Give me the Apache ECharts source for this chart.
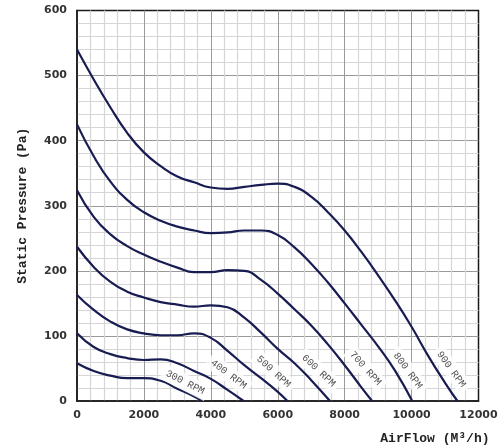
<!DOCTYPE html>
<html>
<head>
<meta charset="utf-8">
<script src="https://cdn.jsdelivr.net/npm/echarts@6/dist/echarts.min.js"></script>
<style>
html,body{margin:0;padding:0;background:#fff;}
#chart{width:504px;height:448px;}
</style>
</head>
<body>
<div id="chart"></div>
<script>
// ---- data (AirFlow M3/h, Static Pressure Pa) ----
const rpmNames = ['300 RPM','400 RPM','500 RPM','600 RPM','700 RPM','800 RPM','900 RPM'];

const rpm300X = [0, 500, 1000, 1500, 2000, 2500, 3000, 3500, 3750];
const rpm300Y = [58, 46, 39, 35, 35, 31, 19, 7, 0];

const rpm400X = [0, 500, 1000, 1500, 2000, 2500, 3000, 3500, 4000, 4500, 4980];
const rpm400Y = [104, 83, 72, 66, 63, 64, 58, 46, 34, 17, 0];

const rpm500X = [0, 500, 1000, 1500, 2000, 2500, 3000, 3500, 4000, 4500, 5000, 5500, 6000, 6290];
const rpm500Y = [163, 140, 122, 110, 104, 101, 101, 104, 97, 77, 55, 35, 14, 0];

const rpm600X = [0, 500, 1000, 1500, 2000, 2500, 3000, 3500, 4000, 4500, 5000, 5500, 6000, 6500, 7000, 7560];
const rpm600Y = [237, 206, 183, 168, 159, 152, 148, 145, 147, 144, 128, 105, 80, 58, 32, 0];

const rpm700X = [0, 500, 1000, 1500, 2000, 2500, 3000, 3500, 4000, 4500, 5000, 5500, 6000, 6500, 7000, 7500, 8000, 8500, 8820];
const rpm700Y = [324, 283, 256, 238, 225, 214, 205, 198, 198, 201, 200, 186, 165, 141, 116, 87, 55, 21, 0];

const rpm800X = [0, 500, 1000, 1500, 2000, 2500, 3000, 3500, 4000, 4500, 5000, 5500, 6000, 6500, 7000, 7500, 8000, 8500, 9000, 9500, 10020];
const rpm800Y = [425, 376, 337, 309, 290, 277, 268, 262, 258, 259, 262, 262, 255, 236, 211, 182, 150, 117, 84, 47, 0];

const rpm900X = [0, 500, 1000, 1500, 2000, 2500, 3000, 3500, 4000, 4500, 5000, 5500, 6000, 6500, 7000, 7500, 8000, 8500, 9000, 9500, 10000, 10500, 11000, 11370];
const rpm900Y = [540, 494, 451, 412, 382, 361, 345, 336, 328, 326, 329, 332, 334, 329, 314, 290, 262, 229, 193, 155, 114, 69, 28, 0];

const xTicks = [0, 2000, 4000, 6000, 8000, 10000, 12000];
const yTicks = [0, 100, 200, 300, 400, 500, 600];

// ---- build ----
const curvesX = [rpm300X, rpm400X, rpm500X, rpm600X, rpm700X, rpm800X, rpm900X];
const curvesY = [rpm300Y, rpm400Y, rpm500Y, rpm600Y, rpm700Y, rpm800Y, rpm900Y];

// label anchors (data coordinates) and text angles
const labelAt = [[3232, 28.5], [4530, 41], [5876, 45], [7224, 46.5], [8620, 50], [9887, 46.5], [11185, 48.6]];
const labelRot = [-27, -37, -42, -43, -48, -54, -54];

const lineColor = '#181c52';
const series = curvesX.map((xs, i) => ({
  type: 'line',
  name: rpmNames[i],
  data: xs.map((x, j) => [x, curvesY[i][j]]),
  smooth: 0.5,
  showSymbol: false,
  symbol: 'none',
  lineStyle: { color: lineColor, width: 2.2 },
  z: 3,
  silent: true
}));

series.push({
  type: 'scatter',
  symbolSize: 0,
  z: 5,
  silent: true,
  data: labelAt.map((p, i) => ({
    value: p,
    label: {
      show: true,
      position: 'inside',
      formatter: rpmNames[i],
      rotate: labelRot[i],
      fontFamily: 'Liberation Mono',
      fontSize: 10,
      color: '#222',
      backgroundColor: '#ffffff',
      padding: [3, 4]
    }
  }))
});

const chart = echarts.init(document.getElementById('chart'), null, { renderer: 'canvas' });
chart.setOption({
  animation: false,
  backgroundColor: '#ffffff',
  grid: {
    left: 77, right: 25.5, top: 10.5, bottom: 47,
    show: true, borderColor: '#1a1a1a', borderWidth: 1.5, backgroundColor: 'transparent',
    containLabel: false
  },
  xAxis: {
    type: 'value',
    min: xTicks[0], max: xTicks[xTicks.length - 1], interval: 2000,
    name: 'AirFlow (M³/h)',
    nameLocation: 'end',
    nameGap: 11,
    nameTextStyle: {
      fontFamily: 'Liberation Mono', fontWeight: 'bold', fontSize: 13, color: '#222',
      align: 'right', verticalAlign: 'top', padding: [31, 0, 0, 0]
    },
    axisLine: { show: true, lineStyle: { color: '#1a1a1a', width: 1.5 } },
    axisTick: { show: false },
    axisLabel: { fontFamily: 'DejaVu Sans', fontWeight: 'bold', fontSize: 11, color: '#333', margin: 9,
      formatter: v => String(v) },
    splitLine: { show: true, showMinLine: false, showMaxLine: false, lineStyle: { color: '#9a9a9a', width: 1 } },
    minorTick: { show: false, splitNumber: 5 },
    minorSplitLine: { show: true, lineStyle: { color: '#d6d6d6', width: 1.2 } }
  },
  yAxis: {
    type: 'value',
    min: yTicks[0], max: yTicks[yTicks.length - 1], interval: 100,
    name: 'Static Pressure (Pa)',
    nameLocation: 'middle',
    nameGap: 48,
    nameRotate: 90,
    nameTextStyle: { fontFamily: 'Liberation Mono', fontWeight: 'bold', fontSize: 13, color: '#222' },
    axisLine: { show: true, lineStyle: { color: '#1a1a1a', width: 1.5 } },
    axisTick: { show: false },
    axisLabel: { fontFamily: 'DejaVu Sans', fontWeight: 'bold', fontSize: 11, color: '#333', margin: 10,
      formatter: v => String(v) },
    splitLine: { show: true, showMinLine: false, showMaxLine: false, lineStyle: { color: '#9a9a9a', width: 1 } },
    minorTick: { show: false, splitNumber: 5 },
    minorSplitLine: { show: true, lineStyle: { color: '#d6d6d6', width: 1.2 } }
  },
  series: series
});
</script>
</body>
</html>
